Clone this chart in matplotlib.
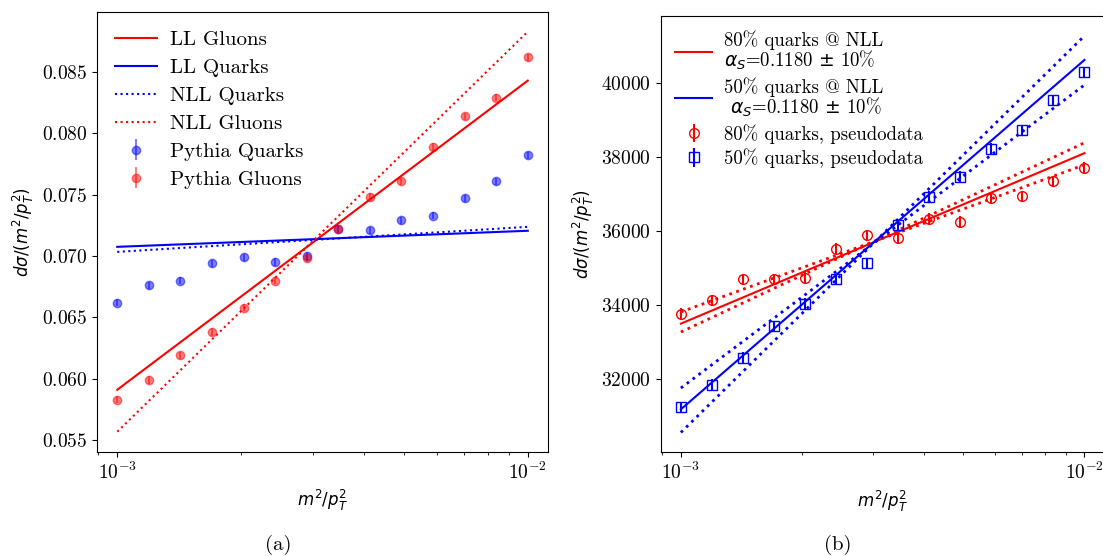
import matplotlib
matplotlib.use('Agg')
import matplotlib.pyplot as plt

plt.rcParams['font.family'] = ['cmr10', 'DejaVu Serif']
plt.rcParams['axes.formatter.use_mathtext'] = True
plt.rcParams['mathtext.fontset'] = 'dejavusans'

# x positions: 14 log-spaced bins between 1e-3 and 1e-2
x = [0.001, 0.001194, 0.001425, 0.001701, 0.002031, 0.002424, 0.002894,
     0.003455, 0.004125, 0.004924, 0.005878, 0.007017, 0.008377, 0.01]
x_ends = [0.001, 0.01]

# panel (a)
pythia_quarks = [0.0662, 0.0676, 0.0680, 0.0694, 0.0699, 0.0695, 0.0700,
                 0.0722, 0.0721, 0.0729, 0.0733, 0.0747, 0.0761, 0.0782]
pythia_gluons = [0.0583, 0.0599, 0.0619, 0.0638, 0.0658, 0.0680, 0.0698,
                 0.0722, 0.0748, 0.0761, 0.0789, 0.0814, 0.0829, 0.0862]
pythia_err = [0.0003] * 14
ll_gluons = [0.0591, 0.0843]
ll_quarks = [0.07075, 0.07206]
nll_quarks = [0.07034, 0.07238]
nll_gluons = [0.05568, 0.08829]

# panel (b)
pseudo_80 = [33775, 34135, 34705, 34700, 34750, 35530, 35890,
             35820, 36340, 36250, 36890, 36945, 37350, 37720]
pseudo_50 = [31250, 31854, 32585, 33430, 34045, 34705, 35140,
             36160, 36930, 37470, 38230, 38735, 39540, 40300]
pseudo_err = [150] * 14
nll_80 = [33504, 38111]
nll_80_lo = [33820, 37797]
nll_80_hi = [33277, 38393]
nll_50 = [31188, 40631]
nll_50_lo = [31764, 39955]
nll_50_hi = [30563, 41282]

fig = plt.figure(figsize=(11.03, 5.56), dpi=100)
ax1 = fig.add_axes([0.0877, 0.1876, 0.4094, 0.7914])
ax2 = fig.add_axes([0.599, 0.1865, 0.4025, 0.7847])

ax1.plot(x_ends, ll_gluons, color='r', lw=1.5, label='LL Gluons')
ax1.plot(x_ends, ll_quarks, color='b', lw=1.5, label='LL Quarks')
ax1.plot(x_ends, nll_quarks, color='b', lw=1.5, ls=':', label='NLL Quarks')
ax1.plot(x_ends, nll_gluons, color='r', lw=1.5, ls=':', label='NLL Gluons')
ax1.errorbar(x, pythia_quarks, yerr=pythia_err, fmt='o', color='b', alpha=0.5,
             ms=6, label='Pythia Quarks')
ax1.errorbar(x, pythia_gluons, yerr=pythia_err, fmt='o', color='r', alpha=0.5,
             ms=6, label='Pythia Gluons')
ax1.set_xscale('log')
ax1.set_xlabel('$m^2/p_T^2$', fontsize=12)
ax1.set_ylabel('$d\\sigma/(m^2/p_T^2)$', fontsize=12)
ax1.tick_params(labelsize=14)
ax1.legend(fontsize=15, frameon=False, loc='upper left', labelspacing=0.45,
           handletextpad=0.6)

ax2.plot(x_ends, nll_80, color='r', lw=1.5,
         label='80% quarks @ NLL\n$\\alpha_S$=0.1180 $\\pm$ 10%')
ax2.plot(x_ends, nll_80_lo, color='r', lw=2, ls=':')
ax2.plot(x_ends, nll_80_hi, color='r', lw=2, ls=':')
ax2.plot(x_ends, nll_50, color='b', lw=1.5,
         label='50% quarks @ NLL\n $\\alpha_S$=0.1180 $\\pm$ 10%')
ax2.plot(x_ends, nll_50_lo, color='b', lw=2, ls=':')
ax2.plot(x_ends, nll_50_hi, color='b', lw=2, ls=':')
ax2.errorbar(x, pseudo_80, yerr=pseudo_err, fmt='o', color='r', mfc='none',
             ms=7, label='80% quarks, pseudodata')
ax2.errorbar(x, pseudo_50, yerr=pseudo_err, fmt='s', color='b', mfc='none',
             ms=7, label='50% quarks, pseudodata')
ax2.set_xscale('log')
ax2.set_xlabel('$m^2/p_T^2$', fontsize=12)
ax2.set_ylabel('$d\\sigma/(m^2/p_T^2)$', fontsize=12)
ax2.tick_params(labelsize=14)
leg2 = ax2.legend(fontsize=13.5, frameon=False, loc='upper left', labelspacing=0.25,
                  borderaxespad=0.35, handletextpad=0.6)
for t in leg2.get_texts():
    t.set_linespacing(0.95)

fig.text(278 / 1103, 1 - 545 / 556, '(a)', ha='center', va='center', fontsize=15)
fig.text(838 / 1103, 1 - 545 / 556, '(b)', ha='center', va='center', fontsize=15)

fig.savefig('out.png', dpi=100)
